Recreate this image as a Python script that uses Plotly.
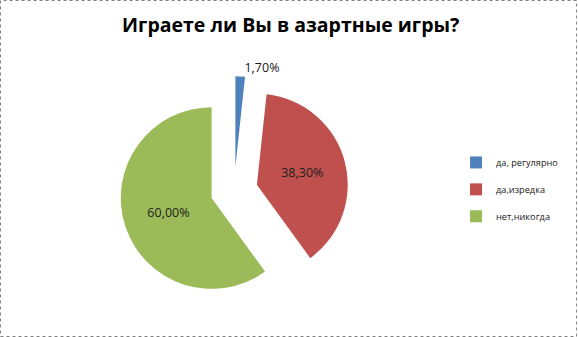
import plotly.graph_objects as go

labels = ["да, регулярно", "да,изредка", "нет,никогда"]
values = [1.7, 38.3, 60.0]
colors = ["#4F81BD", "#C0504D", "#9BBB59"]
title = "Играете ли Вы в азартные игры?"

text = [f"{v:.2f}%".replace(".", ",") for v in values]
legend_labels = [lab + "<br> " for lab in labels]

fig = go.Figure(go.Pie(
    labels=legend_labels,
    values=values,
    text=text,
    texttemplate="%{text}",
    textposition=["outside", "inside", "inside"],
    insidetextorientation="horizontal",
    textfont=dict(family="Open Sans", size=12.5, color="#202020"),
    marker=dict(colors=colors, line=dict(width=0)),
    pull=[0.26, 0.26, 0.26],
    sort=False,
    direction="clockwise",
    rotation=0,
    hoverinfo="label+percent",
    domain=dict(x=[0.207, 0.603], y=[0.094, 0.774]),
    showlegend=True,
))

fig.update_layout(
    width=578, height=337,
    margin=dict(l=0, r=0, t=0, b=0, autoexpand=False),
    paper_bgcolor="white",
    plot_bgcolor="white",
    title=dict(text="<b>" + title + "</b>", x=0.503, xanchor="center", y=0.925, yanchor="middle",
               font=dict(family="Open Sans", size=19.5, color="black")),
    legend=dict(x=0.789, y=0.42, xanchor="left", yanchor="middle",
                font=dict(family="Open Sans", size=9.2, color="#202020"),
                valign="top", itemwidth=30),
    shapes=[dict(type="rect", xref="paper", yref="paper", x0=0.0009, y0=0.0015, x1=0.9975, y1=0.9985,
                 line=dict(color="#808080", width=1, dash="dot"))],
)

fig.write_html("out.html")
